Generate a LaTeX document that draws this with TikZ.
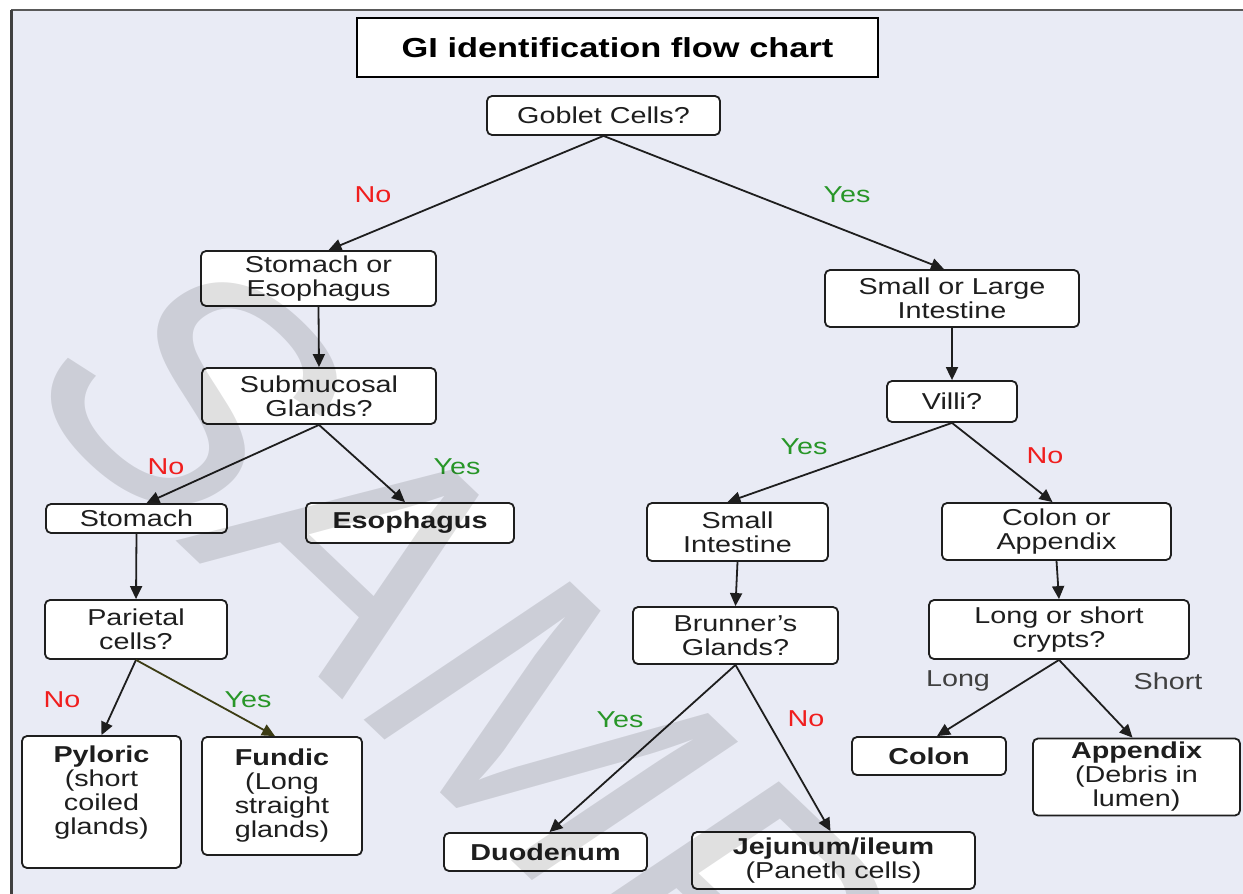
\documentclass[tikz,border=0pt]{standalone}
\usepackage{fontspec}
\setmainfont{Liberation Sans}[FakeStretch=1.25]
\newfontfamily\wmfont{Liberation Sans}
\usetikzlibrary{arrows.meta}

\definecolor{bgpanel}{RGB}{233,235,245}
\definecolor{nored}{RGB}{240,30,30}
\definecolor{yesgreen}{RGB}{40,150,40}
\definecolor{olivearrow}{RGB}{60,60,20}
\definecolor{inktext}{RGB}{30,30,30}

\newcommand{\boxfont}{\fontsize{23}{24}\selectfont}

\tikzset{
    box/.style={draw=inktext, line width=1.8pt, fill=white, rounded corners=5pt,
        align=center, inner sep=1pt, text=inktext, font=\boxfont},
    arr/.style={-{Triangle[length=13pt,width=12pt]}, line width=1.8pt, draw=inktext},
    nolbl/.style={text=nored, font=\boxfont},
    yeslbl/.style={text=yesgreen, font=\boxfont},
    sizelbl/.style={text=inktext!85, font=\boxfont},
}

\begin{document}
\begin{tikzpicture}[x=1pt, y=-1pt]
        \useasboundingbox (0,0) rectangle (1243,894);
        \fill[white] (0,0) rectangle (1243,894);
        \fill[bgpanel] (11,10) rectangle (1243,894);
        \draw[black!65, line width=1.5pt] (11,10) -- (1243,10);
        \draw[black!75, line width=3pt] (11,10) -- (11,894);

        % title
        \node[draw=black, line width=2pt, fill=white, minimum width=521, minimum height=59,
            font=\fontsize{27.5}{28}\selectfont\bfseries] (title) at (617.5,47.5)
            {GI identification flow chart};

        % questions
        \node[box, minimum width=233, minimum height=39] (gob) at (603.5,115.5) {Goblet Cells?};
        \node[box, minimum width=235, minimum height=55] (soe) at (318.5,278.5) {Stomach or\\Esophagus};
        \node[box, minimum width=254, minimum height=57] (sol) at (952,298.5) {Small or Large\\Intestine};
        \node[box, minimum width=234, minimum height=56] (sub) at (319,396) {Submucosal\\Glands?};
        \node[box, minimum width=130, minimum height=41] (vil) at (952,401.5) {Villi?};
        \node[box, minimum width=181, minimum height=29] (sto) at (136.5,518.5) {Stomach};
        \node[box, minimum width=208, minimum height=40] (eso) at (410,523) {\textbf{Esophagus}};
        \node[box, minimum width=181, minimum height=58] (sin) at (737.5,532) {Small\\Intestine};
        \node[box, minimum width=229, minimum height=57] (coa) at (1056.5,531.5) {Colon or\\Appendix};
        \node[box, minimum width=182, minimum height=59] (par) at (136,629.5) {Parietal\\cells?};
        \node[box, minimum width=205, minimum height=57] (bru) at (735.5,635.5) {Brunner's\\Glands?};
        \node[box, minimum width=260, minimum height=59] (lsc) at (1059,629.5) {Long or short\\crypts?};

        % answers
        \node[box, minimum width=159, minimum height=132] (pyl) at (101.5,802)
            {\textbf{Pyloric}\\(short\\coiled\\glands)\\ \mbox{}};
        \node[box, minimum width=160, minimum height=118] (fun) at (282,796)
            {\textbf{Fundic}\\(Long\\straight\\glands)};
        \node[box, minimum width=203, minimum height=38] (duo) at (545.5,852) {\textbf{Duodenum}};
        \node[box, minimum width=283, minimum height=57] (jej) at (833.5,860.5)
            {\textbf{Jejunum/ileum}\\(Paneth cells)};
        \node[box, minimum width=154, minimum height=38] (col) at (929,756) {\textbf{Colon}};
        \node[box, minimum width=207, minimum height=77, inner ysep=0pt] (app) at (1136.5,777)
            {\textbf{Appendix}\\(Debris in\\lumen)};

        % connectors
        \draw[arr] (gob.south) -- ([xshift=10pt]soe.north);
        \draw[arr] (gob.south) -- ([xshift=-8pt]sol.north);
        \draw[arr] (soe.south) -- (sub.north);
        \draw[arr] (sol.south) -- (vil.north);
        \draw[arr] (sub.south) -- ([xshift=10pt]sto.north);
        \draw[arr] (sub.south) -- ([xshift=-5pt]eso.north);
        \draw[arr] (vil.south) -- ([xshift=-10pt]sin.north);
        \draw[arr] (vil.south) -- ([xshift=-4pt]coa.north);
        \draw[arr] (sto.south) -- (par.north);
        \draw[arr] (sin.south) -- (bru.north);
        \draw[arr] (coa.south) -- (lsc.north);
        \draw[arr] (par.south) -- (pyl.north);
        \draw[arr, draw=olivearrow] (par.south) -- ([xshift=-7pt]fun.north);
        \draw[arr] (bru.south) -- ([xshift=4pt]duo.north);
        \draw[arr] (bru.south) -- ([xshift=-3pt]jej.north);
        \draw[arr] (lsc.south) -- ([xshift=8pt]col.north);
        \draw[arr] (lsc.south) -- ([xshift=-4pt]app.north);

        % branch labels
        \node[nolbl] (noA) at (373,195) {No};
        \node[yeslbl] (yesA) at (847,195) {Yes};
        \node[nolbl] (noB) at (166,467) {No};
        \node[yeslbl] (yesB) at (457,467) {Yes};
        \node[yeslbl] (yesC) at (804,447) {Yes};
        \node[nolbl] (noC) at (1045,456) {No};
        \node[nolbl] (noD) at (62,700) {No};
        \node[yeslbl] (yesD) at (248,700) {Yes};
        \node[yeslbl] (yesE) at (620,720) {Yes};
        \node[nolbl] (noE) at (806,719) {No};
        \node[sizelbl] (lng) at (958,681) {Long};
        \node[sizelbl] (shr) at (1168,681) {Short};

        % watermark
        \begin{scope}[shift={(621,798)}, xscale=1.25]
            \node[transform shape, rotate=-50, inner sep=0pt, text=black, opacity=0.12,
                font=\wmfont\fontsize{313}{313}\selectfont] (wmark) at (0,0) {SAMPLE};
        \end{scope}
\end{tikzpicture}
\end{document}
